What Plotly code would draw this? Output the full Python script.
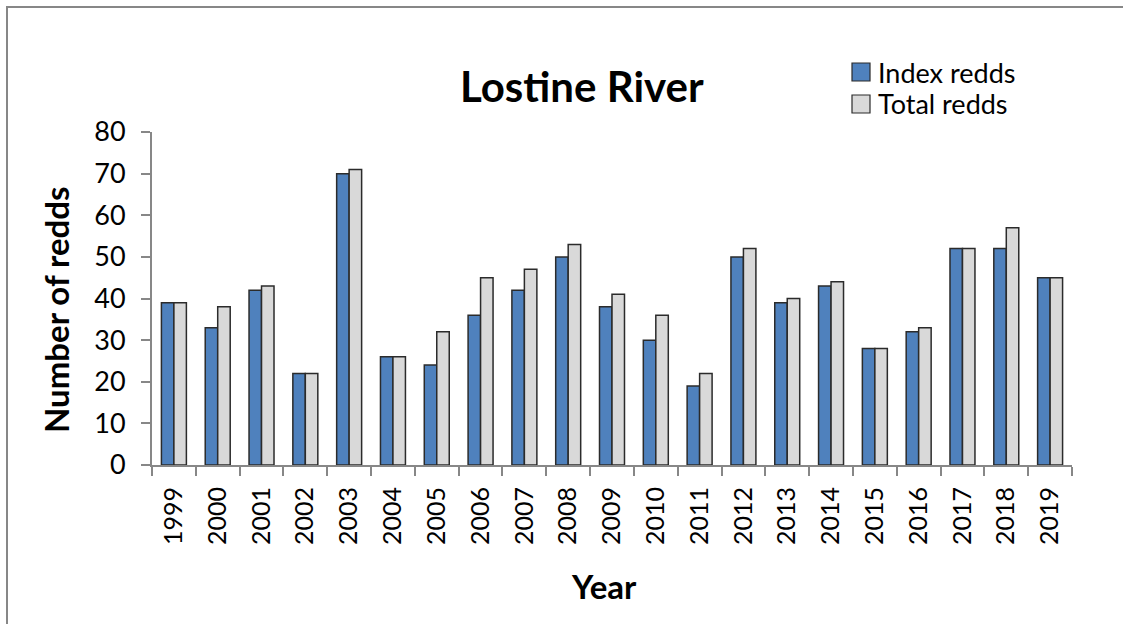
import plotly.graph_objects as go

years = [str(y) for y in range(1999, 2020)]
index_redds = [39, 33, 42, 22, 70, 26, 24, 36, 42, 50, 38, 30, 19, 50, 39, 43, 28, 32, 52, 52, 45]
total_redds = [39, 38, 43, 22, 71, 26, 32, 45, 47, 53, 41, 36, 22, 52, 40, 44, 28, 33, 52, 57, 45]
y_ticks = [0, 10, 20, 30, 40, 50, 60, 70, 80]
series_names = ["Index redds", "Total redds"]
series_colors = ["#4F81BD", "#D9D9D9"]

W, H = 1123, 624
L, R, T, B = 152, 51, 132, 159
pw, ph = W - L - R, H - T - B

FONT = "Lato, 'Open Sans', sans-serif"
AXIS_GRAY = "#878787"
EDGE = "#2b2b2b"

fig = go.Figure()
for name, vals, col in zip(series_names, [index_redds, total_redds], series_colors):
    fig.add_trace(go.Bar(
        x=years, y=vals, name=name, showlegend=False,
        marker=dict(color=col, line=dict(color=EDGE, width=1.5)),
    ))


def px_x(x):
    return (x - L) / pw


def px_y(y):
    return (H - B - y) / ph


annotations = [
    dict(text="<b>Lostine River</b>", x=px_x(582), y=px_y(86),
         xref="paper", yref="paper", showarrow=False,
         xanchor="center", yanchor="middle",
         font=dict(size=42, family=FONT)),
    dict(text="<b>Number of redds</b>", x=px_x(56), y=px_y(310),
         xref="paper", yref="paper", showarrow=False, textangle=-90,
         xanchor="center", yanchor="middle",
         font=dict(size=33, family=FONT)),
    dict(text="<b>Year</b>", x=px_x(604), y=px_y(586),
         xref="paper", yref="paper", showarrow=False,
         xanchor="center", yanchor="middle",
         font=dict(size=33, family=FONT)),
]
shapes = [
    dict(type="rect", xref="paper", yref="paper",
         x0=px_x(7), x1=px_x(W + 10), y0=px_y(H + 10), y1=px_y(7),
         line=dict(color=AXIS_GRAY, width=2), fillcolor="rgba(0,0,0,0)",
         layer="below"),
]

# legend drawn as swatches + labels in the upper-right corner
for i, (name, col) in enumerate(zip(series_names, series_colors)):
    cy = 72 + 32 * i
    shapes.append(dict(
        type="rect", xref="paper", yref="paper",
        x0=px_x(852), x1=px_x(870), y0=px_y(cy + 9), y1=px_y(cy - 9),
        fillcolor=col, line=dict(color=EDGE, width=1.2),
    ))
    annotations.append(dict(
        text=name, x=px_x(876), y=px_y(cy), xref="paper", yref="paper",
        showarrow=False, xanchor="left", yanchor="middle",
        font=dict(size=27, family=FONT),
    ))

fig.update_layout(
    width=W, height=H,
    margin=dict(l=L, r=R, t=T, b=B),
    paper_bgcolor="white", plot_bgcolor="white",
    barmode="group", bargap=0.43, bargroupgap=0.0,
    font=dict(family=FONT, color="black"),
    showlegend=False,
    annotations=annotations,
    shapes=shapes,
)

fig.update_xaxes(
    type="category", showgrid=False, zeroline=False,
    showline=True, linecolor=AXIS_GRAY, linewidth=2,
    ticks="outside", tickson="boundaries", ticklen=9, tickwidth=2, tickcolor=AXIS_GRAY,
    tickangle=-90, tickfont=dict(size=25, family=FONT), ticklabelstandoff=10,
)
fig.update_yaxes(
    range=[0, 80], tickvals=y_ticks, showgrid=False, zeroline=False,
    showline=True, linecolor=AXIS_GRAY, linewidth=2,
    ticks="outside", ticklen=9, tickwidth=2, tickcolor=AXIS_GRAY,
    tickfont=dict(size=27, family=FONT), ticklabelstandoff=10,
)

fig.write_html("out.html")
